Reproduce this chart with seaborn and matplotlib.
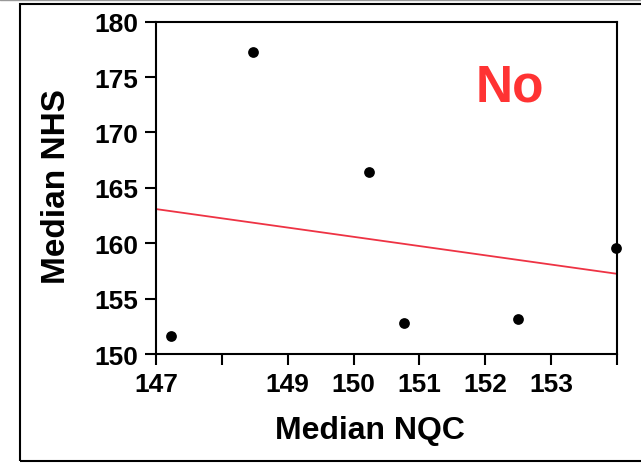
import numpy as np
import pandas as pd
import matplotlib
matplotlib.use('Agg')
import matplotlib.pyplot as plt
import seaborn as sns
from matplotlib.patches import Rectangle
from matplotlib.lines import Line2D

# data
median_nqc = [147.22, 148.48, 150.24, 150.76, 152.49, 153.98]
median_nhs = [151.6, 177.25, 166.46, 152.78, 153.14, 159.6]
x_ticks = [147, 148, 149, 150, 151, 152, 153, 154]
x_ticklabels = ['147', '', '149', '150', '151', '152', '153', '']
y_ticks = [150, 155, 160, 165, 170, 175, 180]

df = pd.DataFrame({'NQC': median_nqc, 'NHS': median_nhs})

sns.set_style('ticks')
plt.rcParams['font.family'] = ['Liberation Sans', 'DejaVu Sans']
plt.rcParams['font.weight'] = 'bold'
plt.rcParams['text.color'] = 'black'
plt.rcParams['axes.labelcolor'] = 'black'
plt.rcParams['xtick.color'] = 'black'
plt.rcParams['ytick.color'] = 'black'

fig = plt.figure(figsize=(6.41, 4.64), dpi=100)
ax = fig.add_axes([0.2434, 0.2349, 0.7192, 0.7162])
ax.set_xlim(147, 154)
ax.set_ylim(150, 180)

# points + least-squares line across the full x range
sns.regplot(data=df, x='NQC', y='NHS', ax=ax, ci=None, truncate=False,
            scatter_kws={'color': 'black', 'alpha': 1, 's': 60, 'zorder': 3,
                         'clip_on': False, 'linewidths': 0},
            line_kws={'color': '#ee3344', 'lw': 1.3})

ax.set_xlim(147, 154)
ax.set_ylim(150, 180)
ax.set_xticks(x_ticks)
ax.set_xticklabels(x_ticklabels)
ax.set_yticks(y_ticks)
ax.tick_params(axis='both', labelsize=19, width=1.5, length=8,
               direction='out', labelcolor='black')
ax.tick_params(axis='x', pad=5)
ax.tick_params(axis='y', pad=5)
for lab in ax.get_xticklabels() + ax.get_yticklabels():
    lab.set_fontweight('bold')
for sp in ax.spines.values():
    sp.set_visible(True)
    sp.set_linewidth(1.5)
    sp.set_color('black')

ax.set_xlabel('Median NQC', fontsize=23, fontweight='bold', color='black')
ax.set_ylabel('Median NHS', fontsize=24, fontweight='bold', color='black')
ax.xaxis.set_label_coords((370 - 156) / 461, (355 - 416) / 332.3)
ax.yaxis.set_label_coords((72 - 156) / 461, (355 - 187) / 332.3)

ax.text(152.37, 172.87, 'No', color='#ff3333', fontsize=37, fontweight='bold',
        ha='center', va='baseline')

# outer frame of the original slide panel
fig.patches.append(Rectangle((20 / 641, 2 / 464), 630 / 641, 457 / 464,
                             transform=fig.transFigure, fill=False,
                             edgecolor='black', lw=1.5))
fig.lines.append(Line2D([0, 1], [1 - 1 / 464, 1 - 1 / 464], transform=fig.transFigure,
                        color='#999999', lw=1))

fig.savefig('out.png', dpi=100)
